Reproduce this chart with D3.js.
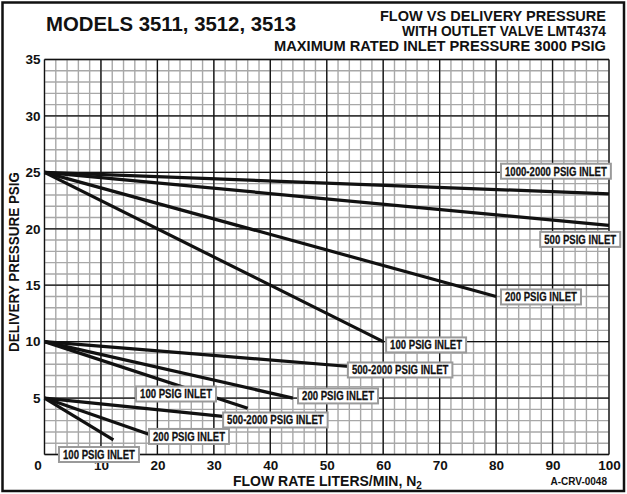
<!DOCTYPE html>
<html>
<head>
<meta charset="utf-8">
<script src="https://cdn.jsdelivr.net/npm/d3@7"></script>
<style>
  html, body { margin: 0; padding: 0; background: #fff; }
  svg { display: block; }
  text { font-family: "Liberation Sans", Arial, Helvetica, sans-serif; font-weight: bold; fill: #111; }
</style>
</head>
<body>
<svg id="chart" width="627" height="494"></svg>
<script>
// Axis ticks
const xTicks = [0, 10, 20, 30, 40, 50, 60, 70, 80, 90, 100];
const yTicks = [0, 5, 10, 15, 20, 25, 30, 35];

// Curves: flow (L/min N2) vs delivery pressure (psig), grouped by set pressure
const curve25_1000_2000 = [[0, 25], [100, 23.1]];
const curve25_500 = [[0, 25], [100, 20.3]];
const curve25_200 = [[0, 25], [80, 14]];
const curve25_100 = [[0, 25], [60, 10]];

const curve10_500_2000 = [[0, 10], [54, 7.8]];
const curve10_200 = [[0, 10], [44, 5]];
const curve10_100 = [[0, 10], [36, 4.1]];

const curve5_500_2000 = [[0, 5], [32, 3.35]];
const curve5_200 = [[0, 5], [19, 1.7]];
const curve5_100 = [[0, 5], [12.2, 1.3]];

const curves = [
  curve25_1000_2000, curve25_500, curve25_200, curve25_100,
  curve10_500_2000, curve10_200, curve10_100,
  curve5_500_2000, curve5_200, curve5_100
];

// Curve captions
const captionTexts = [
  "1000-2000 PSIG INLET", "500 PSIG INLET", "200 PSIG INLET", "100 PSIG INLET",
  "500-2000 PSIG INLET", "200 PSIG INLET", "100 PSIG INLET",
  "500-2000 PSIG INLET", "200 PSIG INLET", "100 PSIG INLET"
];

// Caption centres, in axis units (flow, pressure)
const captionAnchors = [
  [90.6, 25.1], [94.9, 19.06], [87.95, 13.96], [67.6, 9.71],
  [63.0, 7.49], [52.0, 5.19], [23.3, 5.36],
  [40.9, 3.06], [25.6, 1.6], [9.65, 0.0]
];

const svg = d3.select("#chart");
const W = 627, H = 494;

const x = d3.scaleLinear().domain([0, 100]).range([44.5, 609]);
const y = d3.scaleLinear().domain([0, 35]).range([454.5, 59.5]);

// background
svg.append("rect").attr("width", W).attr("height", H).attr("fill", "#fff");

// minor grid
const grid = svg.append("g");
grid.selectAll("line.vx").data(d3.range(0, 101, 2)).join("line")
  .attr("x1", d => x(d)).attr("x2", d => x(d))
  .attr("y1", y(0)).attr("y2", y(35))
  .attr("stroke", "#a8a8a8").attr("stroke-width", 1.4);
grid.selectAll("line.hy").data(d3.range(0, 36, 1)).join("line")
  .attr("y1", d => y(d)).attr("y2", d => y(d))
  .attr("x1", x(0)).attr("x2", x(100))
  .attr("stroke", "#a8a8a8").attr("stroke-width", 1.4);

// major grid
const major = svg.append("g");
major.selectAll("line.mx").data(xTicks).join("line")
  .attr("x1", d => x(d)).attr("x2", d => x(d))
  .attr("y1", y(0)).attr("y2", y(35))
  .attr("stroke", "#111").attr("stroke-width", 1.3);
major.selectAll("line.my").data(yTicks).join("line")
  .attr("y1", d => y(d)).attr("y2", d => y(d))
  .attr("x1", x(0)).attr("x2", x(100))
  .attr("stroke", "#111").attr("stroke-width", 1.3);

// axes (labels only)
const yAxis = svg.append("g")
  .attr("transform", `translate(${x(0)},0)`)
  .call(d3.axisLeft(y).tickValues(yTicks.filter(d => d > 0)).tickSize(0).tickPadding(4));
yAxis.select(".domain").remove();
yAxis.selectAll("text").attr("font-size", 13.5).attr("font-family", null).attr("fill", "#111");

const xAxis = svg.append("g")
  .attr("transform", `translate(0,${y(0)})`)
  .call(d3.axisBottom(x).tickValues(xTicks).tickSize(0).tickPadding(6));
xAxis.select(".domain").remove();
xAxis.selectAll("text").attr("font-size", 13.5).attr("font-family", null).attr("fill", "#111");
xAxis.selectAll(".tick").filter(d => d === 0).select("text").attr("dx", -7);

// curves
const line = d3.line().x(d => x(d[0])).y(d => y(d[1]));
svg.append("g").selectAll("path").data(curves).join("path")
  .attr("d", line)
  .attr("fill", "none").attr("stroke", "#111").attr("stroke-width", 3.2);

// captions in boxes (narrowed bold lettering)
const condense = 0.8;
const cap = svg.append("g").selectAll("g").data(captionTexts).join("g")
  .attr("transform", (d, i) => `translate(${x(captionAnchors[i][0])},${y(captionAnchors[i][1])})`);
cap.each(function (d) {
  const g = d3.select(this);
  const r = g.append("rect");
  const t = g.append("text").text(d)
    .attr("font-size", 12).attr("text-anchor", "middle").attr("dy", "0.36em")
    .attr("stroke", "#111").attr("stroke-width", 0.25)
    .attr("transform", `scale(${condense},1)`);
  const w = t.node().getComputedTextLength() * condense;
  r.attr("x", -w / 2 - 4).attr("y", -7.5).attr("width", w + 8).attr("height", 15)
    .attr("fill", "#fff").attr("stroke", "#9a9a9a").attr("stroke-width", 2);
});

// titles
svg.append("text").attr("x", 46).attr("y", 31).attr("font-size", 20)
  .attr("textLength", 250).attr("lengthAdjust", "spacingAndGlyphs")
  .text("MODELS 3511, 3512, 3513");

const rightTitles = ["FLOW VS DELIVERY PRESSURE", "WITH OUTLET VALVE LMT4374", "MAXIMUM RATED INLET PRESSURE 3000 PSIG"];
const rightLens = [226, 204, 332];
svg.append("g").selectAll("text").data(rightTitles).join("text")
  .attr("x", 606).attr("y", (d, i) => 21 + i * 15)
  .attr("text-anchor", "end").attr("font-size", 14)
  .attr("textLength", (d, i) => rightLens[i]).attr("lengthAdjust", "spacingAndGlyphs")
  .text(d => d);

// axis titles
svg.append("text")
  .attr("transform", `translate(19,${(y(0) + y(35)) / 2 + 5}) rotate(-90)`)
  .attr("text-anchor", "middle").attr("font-size", 14)
  .attr("textLength", 180).attr("lengthAdjust", "spacingAndGlyphs")
  .text("DELIVERY PRESSURE PSIG");

const xt = svg.append("text").attr("x", 233).attr("y", 486).attr("font-size", 14);
xt.append("tspan").text("FLOW RATE LITERS/MIN, N");
xt.append("tspan").attr("font-size", 10).attr("dy", 3).text("2");

svg.append("text").attr("x", 607).attr("y", 485).attr("text-anchor", "end")
  .attr("font-size", 10).text("A-CRV-0048");

// outer frame
svg.append("rect").attr("x", 2.5).attr("y", 2.5).attr("width", W - 5.5).attr("height", H - 5.5)
  .attr("fill", "none").attr("stroke", "#111").attr("stroke-width", 2.5);
</script>
</body>
</html>
